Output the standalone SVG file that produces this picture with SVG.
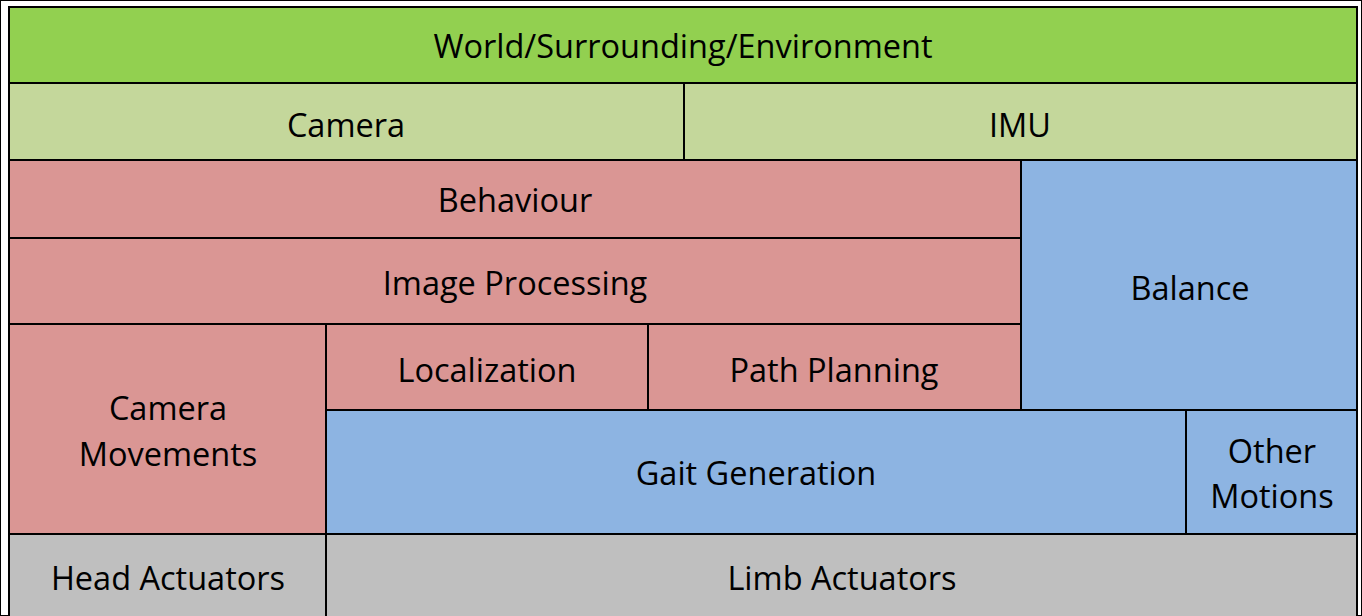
<svg xmlns="http://www.w3.org/2000/svg" width="1362" height="616" viewBox="0 0 1362 616">
<style>
rect{stroke:#000;stroke-width:2}
text{font-family:"Open Sans","Liberation Sans",sans-serif;font-size:32.5px;fill:#000;text-anchor:middle}
.g1{fill:#92D050}.g2{fill:#C4D79B}.r{fill:#DA9694}.b{fill:#8DB4E2}.y{fill:#BFBFBF}
</style>
<rect x="0" y="0" width="1362" height="616" fill="#fff" stroke="none"/>
<g id="world"><rect class="g1" x="9" y="7" width="1348" height="76"/><text x="683" y="58">World/Surrounding/Environment</text></g>
<g id="camera"><rect class="g2" x="9" y="83" width="675" height="77"/><text x="346" y="137">Camera</text></g>
<g id="imu"><rect class="g2" x="684" y="83" width="673" height="77"/><text x="1020" y="137">IMU</text></g>
<g id="behaviour"><rect class="r" x="9" y="160" width="1012" height="78"/><text x="515" y="212">Behaviour</text></g>
<g id="imageprocessing"><rect class="r" x="9" y="238" width="1012" height="86"/><text x="515" y="295">Image Processing</text></g>
<g id="balance"><rect class="b" x="1021" y="160" width="336" height="250"/><text x="1190" y="300">Balance</text></g>
<g id="cameramovements"><rect class="r" x="9" y="324" width="317" height="210"/><text x="168" y="420">Camera</text><text x="168" y="466">Movements</text></g>
<g id="localization"><rect class="r" x="326" y="324" width="322" height="86"/><text x="487" y="382">Localization</text></g>
<g id="pathplanning"><rect class="r" x="648" y="324" width="373" height="86"/><text x="834" y="382">Path Planning</text></g>
<g id="gait"><rect class="b" x="326" y="410" width="860" height="124"/><text x="756" y="485">Gait Generation</text></g>
<g id="othermotions"><rect class="b" x="1186" y="410" width="171" height="124"/><text x="1272" y="463">Other</text><text x="1272" y="508">Motions</text></g>
<g id="headactuators"><rect class="y" x="9" y="534" width="317" height="90"/><text x="168" y="590">Head Actuators</text></g>
<g id="limbactuators"><rect class="y" x="326" y="534" width="1031" height="90"/><text x="842" y="590">Limb Actuators</text></g>
<g id="frame"><rect x="9" y="7" width="1348" height="620" fill="none" stroke-width="3"/></g>
<g id="connectors"></g>
</svg>
